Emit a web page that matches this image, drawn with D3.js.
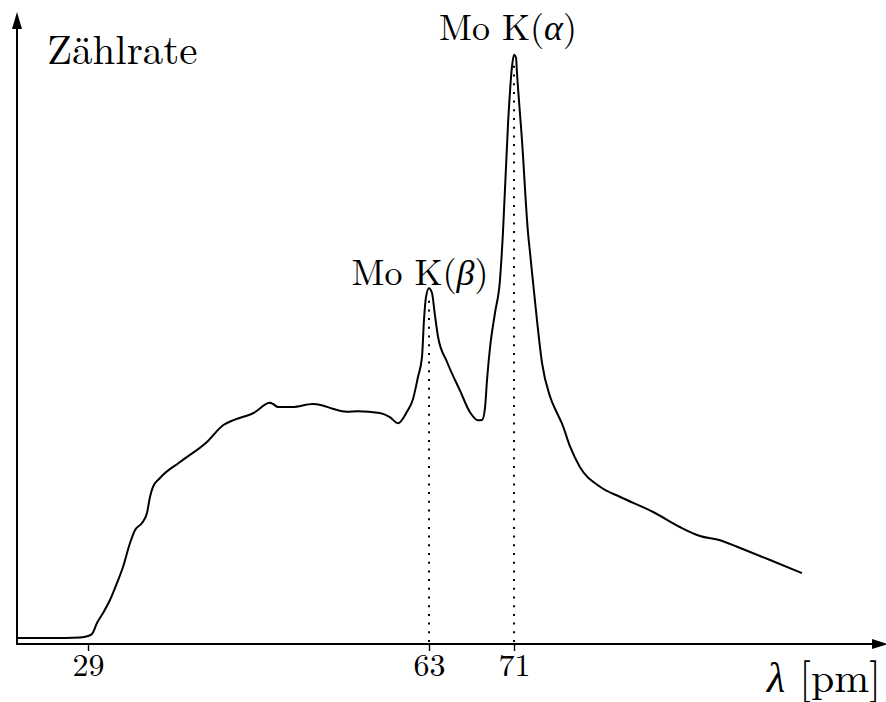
<!DOCTYPE html>
<html><head><meta charset="utf-8">
<script src="https://cdn.jsdelivr.net/npm/d3@7/dist/d3.min.js"></script>
<style>body{margin:0;background:#fff}svg{display:block}</style>
</head><body>
<script>
// wavelength in pm
const wavelength = [21.9,25.2,28.2,29.0,29.4,29.9,30.5,31.19,31.89,32.49,33.19,33.69,34.38,34.88,35.18,35.48,36.18,38.17,40.86,42.5,43.5,45.5,47.15,47.45,47.95,49.4,51.4,52.3,53.4,54.8,55.9,58.1,59.1,59.9,60.8,61.4,61.9,62.3,62.5,62.7,63.0,63.28,63.56,63.85,64.7,65.9,66.9,67.6,67.99,68.27,68.46,68.75,69.21,69.68,69.96,70.44,70.81,71.0,71.19,71.28,71.75,72.32,72.51,73.16,73.64,74.4,75.05,75.5,76.3,77.2,79.1,81.0,84.1,86.6,88.5,90.4,92.0,95.1,98.1];
// count rate (arbitrary units)
const countRate = [1.0,1.0,1.1,1.33,1.67,3.5,5.17,7.33,10.17,12.83,16.83,19.0,20.17,21.83,24.5,26.17,27.67,30.33,33.67,36.5,37.3,38.5,40.2,40.0,39.5,39.5,40.0,39.8,39.2,38.7,38.8,38.5,37.8,36.8,38.7,40.8,44.5,47.8,54.0,57.8,59.3,58.5,54.8,51.2,47.0,42.3,38.5,37.3,37.33,39.33,44.0,49.5,55.17,60.67,68.5,86.8,96.2,98.2,97.7,95.2,84.0,68.5,65.2,54.0,46.8,41.2,38.5,36.8,32.8,29.5,26.2,24.5,22.0,19.5,18.0,17.3,16.2,14.0,11.8];
const tickValues = [29, 63, 71];
const peakLabels = ["Mo K(", "Mo K("];
const peakGreek = ["β", "α"];
const peakPositions = [63, 71];
const peakHeights = [59.3, 98.2];
const yLabel = "Zählrate";
const xLabelSymbol = "λ";
const xLabelUnit = " [pm]";

const FONT = '"Latin Modern Roman"';
const W = 886, H = 702;
const svg = d3.select("body").append("svg").attr("width", W).attr("height", H);

const x = d3.scaleLinear().domain([29, 63, 71]).range([88, 429, 514]);
const y = d3.scaleLinear().domain([0, 100]).range([644, 44]);
const x0 = 17, y0 = 644;

// axes lines with arrows
svg.append("line").attr("x1", x0).attr("y1", y0 + 1).attr("x2", x0).attr("y2", 26)
  .attr("stroke", "#000").attr("stroke-width", 2);
svg.append("path").attr("d", `M${x0},12 L${x0-5},29 L${x0+5},29 Z`).attr("fill", "#000");
svg.append("line").attr("x1", x0 - 1).attr("y1", y0).attr("x2", 874).attr("y2", y0)
  .attr("stroke", "#000").attr("stroke-width", 2);
svg.append("path").attr("d", `M888,${y0} L872,${y0-5} L872,${y0+5} Z`).attr("fill", "#000");

// x axis ticks
const ax = svg.append("g").attr("transform", `translate(0,${y0})`)
  .call(d3.axisBottom(x).tickValues(tickValues).tickSize(7).tickSizeOuter(0).tickFormat(d3.format("d")));
ax.select(".domain").remove();
ax.attr("font-family", null);
ax.selectAll(".tick line").attr("stroke", "#000").attr("stroke-width", 1.4);
ax.selectAll(".tick text").attr("font-size", 32).attr("y", 9).attr("dy", "0.71em")
  .style("font-family", FONT).attr("fill", "#000");

// dotted guides
svg.selectAll("line.guide").data(peakPositions).join("line").attr("class", "guide")
  .attr("x1", d => x(d)).attr("x2", d => x(d))
  .attr("y1", y0 - 2).attr("y2", (d, i) => y(peakHeights[i]) + 6)
  .attr("stroke", "#000").attr("stroke-width", 2).attr("stroke-dasharray", "2 6.7");

// curve
const line = d3.line().x(d => x(d[0])).y(d => y(d[1])).curve(d3.curveMonotoneX);
svg.append("path").datum(wavelength.map((w, i) => [w, countRate[i]]))
  .attr("d", line).attr("fill", "none").attr("stroke", "#000").attr("stroke-width", 2)
  .attr("stroke-linejoin", "round");

// labels
svg.append("text").attr("x", 47).attr("y", 64).attr("font-size", 41)
  .style("font-family", FONT).attr("fill", "#000").text(yLabel);
const xl = svg.append("text").attr("x", 881).attr("y", 692).attr("text-anchor", "end").attr("font-size", 42)
  .style("font-family", FONT).attr("fill", "#000");
xl.append("tspan").attr("font-style", "italic").text(xLabelSymbol);
xl.append("tspan").text(xLabelUnit);

const lblPos = [[420, 285], [508, 40]];
peakPositions.forEach((p, i) => {
  const t = svg.append("text").attr("x", lblPos[i][0]).attr("y", lblPos[i][1])
    .attr("text-anchor", "middle").attr("font-size", 36)
    .style("font-family", FONT).attr("fill", "#000");
  t.append("tspan").text(peakLabels[i]);
  t.append("tspan").attr("font-style", "italic").text(peakGreek[i]);
  t.append("tspan").text(")");
});
</script>
</body></html>
